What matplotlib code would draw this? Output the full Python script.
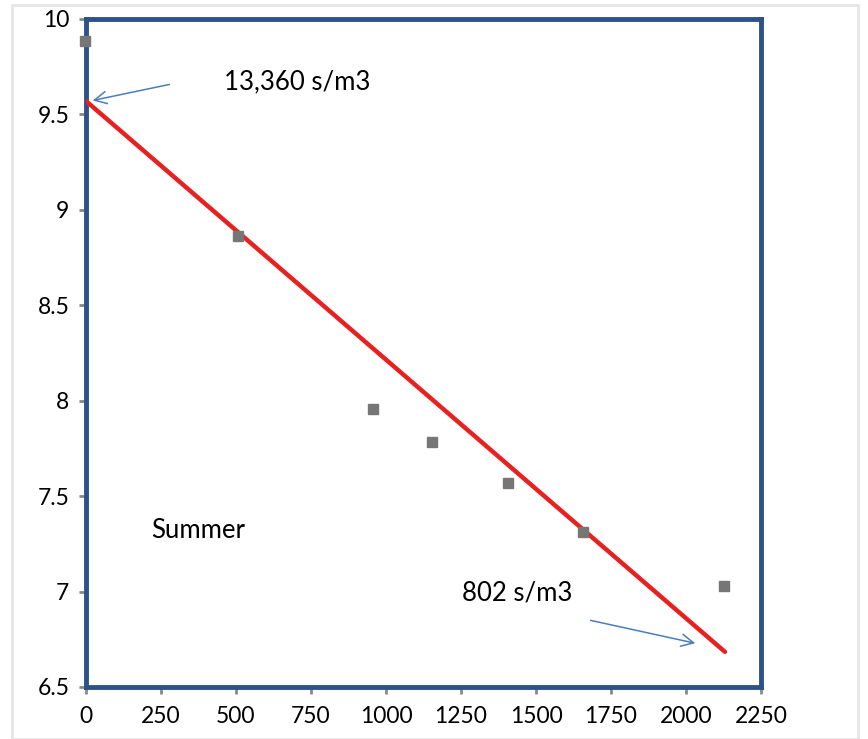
import matplotlib.pyplot as plt
from matplotlib.patches import Rectangle

# data
distance = [-5, 507, 957, 1153, 1407, 1657, 2127]
log_value = [9.885, 8.863, 7.957, 7.784, 7.569, 7.313, 7.03]

fit_x = [0, 2130]
fit_y = [9.57, 6.684]

x_ticks = [0, 250, 500, 750, 1000, 1250, 1500, 1750, 2000, 2250]
y_ticks = [6.5, 7, 7.5, 8, 8.5, 9, 9.5, 10]
y_labels = ['6.5', '7', '7.5', '8', '8.5', '9', '9.5', '10']

plt.rcParams['font.family'] = ['Lato', 'DejaVu Sans']

fig = plt.figure(figsize=(8.68, 7.39), dpi=100)
ax = fig.add_axes([0.0991, 0.0704, 0.7776, 0.9039])

# light grey outer chart-area border
fig.patches.append(Rectangle((12 / 868, 0), 846 / 868, 734 / 739, transform=fig.transFigure,
                             fill=False, edgecolor='#e6e6e6', linewidth=2))

ax.plot(fit_x, fit_y, color='#e8201f', linewidth=3.2, solid_capstyle='round', zorder=3)
ax.plot(distance, log_value, linestyle='none', marker='s', markersize=7,
        color='#767676', zorder=4, clip_on=False)

arrow_style = dict(arrowstyle='->', color='#4a7ebb', linewidth=1.1, mutation_scale=22)
ax.annotate('', xy=(13, 9.57), xytext=(287, 9.66), arrowprops=arrow_style)
ax.annotate('', xy=(2040, 6.726), xytext=(1673, 6.852), arrowprops=arrow_style)

ax.text(460, 9.67, '13,360 s/m3', fontsize=18.5, va='center', ha='left')
ax.text(1255, 6.995, '802 s/m3', fontsize=18.5, va='center', ha='left')
ax.text(218, 7.32, 'Summer', fontsize=18.5, va='center', ha='left')

ax.set_xlim(0, 2250)
ax.set_ylim(6.5, 10)
ax.set_xticks(x_ticks)
ax.set_yticks(y_ticks)
ax.set_yticklabels(y_labels)
ax.tick_params(labelsize=16.5, length=5, width=2, color='#898989', direction='out')
ax.tick_params(axis='x', pad=9)
ax.tick_params(axis='y', pad=7)

for side in ['top', 'right', 'bottom', 'left']:
    ax.spines[side].set_color('#2c5289')
    ax.spines[side].set_linewidth(3.5)
# grey value axis line drawn over the left border
ax.axvline(0, color='#898989', linewidth=1.8, zorder=2.5)

fig.savefig('out.png', dpi=100)
